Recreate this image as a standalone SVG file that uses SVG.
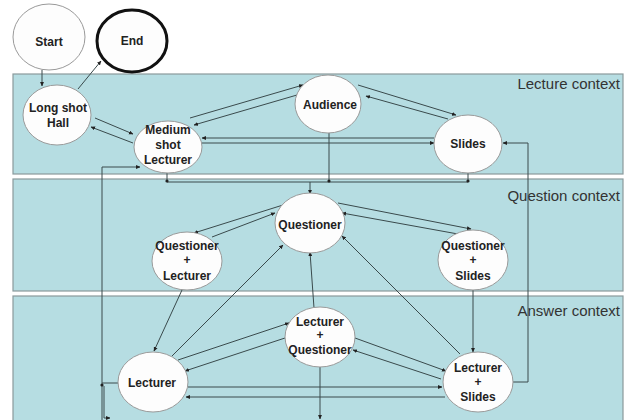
<svg xmlns="http://www.w3.org/2000/svg" width="625" height="420" viewBox="0 0 625 420">
<defs>
<marker id="ah" viewBox="0 0 5 5" refX="4.5" refY="2.5" markerWidth="4.5" markerHeight="4.5" markerUnits="userSpaceOnUse" orient="auto">
<path d="M0,0.3 L5,2.5 L0,4.7 Z" fill="#222"/>
</marker>
</defs>
<style>
.panel{fill:#b6dde2;stroke:#8a9a9c;stroke-width:1.2}
.ctx{font-family:"Liberation Sans",Arial,sans-serif;font-size:15px;fill:#333;text-anchor:end}
.node ellipse{fill:#fdfdfd;stroke:#9a9a9a;stroke-width:1}
.node text{font-family:"Liberation Sans",Arial,sans-serif;font-size:12px;font-weight:bold;fill:#222;text-anchor:middle}
#connectors path,#connectors line{fill:none;stroke:#3a4a4c;stroke-width:1}
.arr{marker-end:url(#ah)}
.dot{fill:#222}
</style>
<rect width="625" height="420" fill="#ffffff"/>
<g id="panels">
<rect class="panel" x="13" y="74" width="610" height="100"/>
<rect class="panel" x="13" y="179" width="610" height="112"/>
<rect class="panel" x="13" y="296" width="610" height="130"/>
<text class="ctx" x="620" y="89">Lecture context</text>
<text class="ctx" x="620" y="201">Question context</text>
<text class="ctx" x="620" y="316">Answer context</text>
</g>
<g id="connectors">
<line class="arr" x1="42" y1="70" x2="42" y2="86"/>
<line class="arr" x1="78" y1="89" x2="101" y2="61"/>
<line class="arr" x1="95" y1="118" x2="133" y2="134"/>
<line class="arr" x1="133" y1="143" x2="91" y2="127"/>
<line class="arr" x1="190" y1="118" x2="303" y2="85"/>
<line class="arr" x1="297" y1="95" x2="194" y2="125"/>
<line class="arr" x1="358" y1="85" x2="456" y2="115"/>
<line class="arr" x1="448" y1="119" x2="366" y2="96"/>
<line class="arr" x1="434" y1="138" x2="202" y2="138"/>
<line class="arr" x1="202" y1="143" x2="434" y2="143"/>
<path class="arr" d="M513,382 H528 V143 H503"/>
<path d="M167,172 V182 H468 V173"/>
<line x1="329" y1="133" x2="329" y2="182"/>
<line class="arr" x1="310" y1="182" x2="310" y2="194"/>
<path class="arr" d="M102,420 V167 H140"/>
<line x1="118" y1="383" x2="102" y2="383"/>
<path class="arr" d="M104,386 V418 H110"/>
<line class="arr" x1="283" y1="205" x2="194" y2="233"/>
<line class="arr" x1="212" y1="237" x2="275" y2="213"/>
<line class="arr" x1="338" y1="203" x2="471" y2="229"/>
<line class="arr" x1="458" y1="234" x2="342" y2="213"/>
<line class="arr" x1="172" y1="356" x2="283" y2="245"/>
<line class="arr" x1="182" y1="290" x2="154" y2="351"/>
<line class="arr" x1="314" y1="308" x2="310" y2="252"/>
<line class="arr" x1="460" y1="354" x2="342" y2="236"/>
<line class="arr" x1="473" y1="290" x2="473" y2="352"/>
<line class="arr" x1="178" y1="360" x2="289" y2="323"/>
<line class="arr" x1="285" y1="338" x2="185" y2="371"/>
<line class="arr" x1="188" y1="387" x2="442" y2="387"/>
<line class="arr" x1="445" y1="397" x2="186" y2="397"/>
<line class="arr" x1="355" y1="338" x2="446" y2="371"/>
<line class="arr" x1="441" y1="379" x2="353" y2="350"/>
<line class="arr" x1="320" y1="367" x2="320" y2="419"/>
<circle class="dot" cx="167" cy="181" r="1.6"/>
<circle class="dot" cx="329" cy="181" r="1.6"/>
<circle class="dot" cx="468" cy="181" r="1.6"/>
<circle class="dot" cx="102" cy="385" r="1.6"/>
</g>
<g id="start" class="node"><ellipse cx="49" cy="37" rx="36" ry="33"/><text x="49" y="46">Start</text></g>
<g id="end" class="node"><ellipse cx="132" cy="41" rx="35" ry="31" style="stroke:#111;stroke-width:3"/><text x="132" y="45">End</text></g>
<g id="long-shot-hall" class="node"><ellipse cx="57" cy="115" rx="34" ry="30"/><text x="58" y="112">Long shot</text><text x="58" y="127">Hall</text></g>
<g id="medium-shot-lecturer" class="node"><ellipse cx="168" cy="147" rx="34" ry="26"/><text x="168" y="134">Medium</text><text x="168" y="149">shot</text><text x="168" y="164">Lecturer</text></g>
<g id="audience" class="node"><ellipse cx="328" cy="104" rx="33" ry="29"/><text x="330" y="109">Audience</text></g>
<g id="slides" class="node"><ellipse cx="468" cy="144" rx="34" ry="29"/><text x="468" y="148">Slides</text></g>
<g id="questioner" class="node"><ellipse cx="310" cy="223" rx="35" ry="30"/><text x="310" y="229">Questioner</text></g>
<g id="questioner-lecturer" class="node"><ellipse cx="187" cy="261" rx="35" ry="29"/><text x="187" y="250">Questioner</text><text x="187" y="264">+</text><text x="187" y="280">Lecturer</text></g>
<g id="questioner-slides" class="node"><ellipse cx="473" cy="260" rx="35" ry="30"/><text x="473" y="250">Questioner</text><text x="473" y="264">+</text><text x="473" y="280">Slides</text></g>
<g id="lecturer-questioner" class="node"><ellipse cx="320" cy="337" rx="35" ry="30"/><text x="320" y="326">Lecturer</text><text x="320" y="339">+</text><text x="320" y="354">Questioner</text></g>
<g id="lecturer" class="node"><ellipse cx="153" cy="382" rx="35" ry="30"/><text x="152" y="387">Lecturer</text></g>
<g id="lecturer-slides" class="node"><ellipse cx="478" cy="382" rx="35" ry="30"/><text x="478" y="372">Lecturer</text><text x="478" y="386">+</text><text x="478" y="401">Slides</text></g>
</svg>
